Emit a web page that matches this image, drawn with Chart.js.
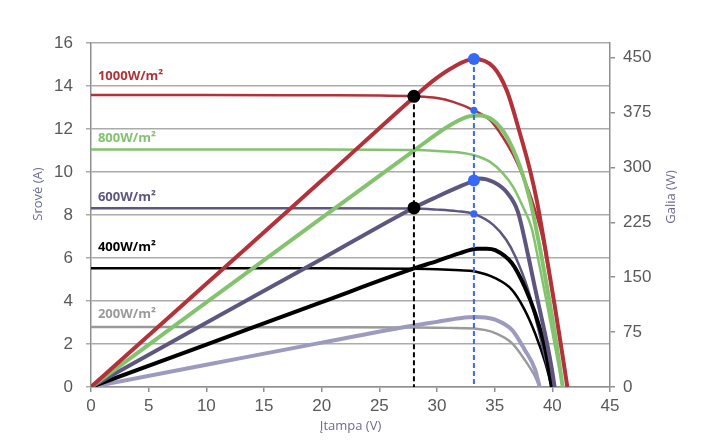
<!DOCTYPE html>
<html>
<head>
<meta charset="utf-8">
<script src="https://cdn.jsdelivr.net/npm/chart.js@4"></script>
<style>
  html, body { margin: 0; padding: 0; background: #ffffff; }
  #wrap { width: 704px; height: 443px; }
</style>
</head>
<body>
<div id="wrap"><canvas id="c" width="704" height="443"></canvas></div>
<script>
// ---------- DATA ----------
const irradianceLabels = ['1000W/m²', '800W/m²', '600W/m²', '400W/m²', '200W/m²'];
const labelCurrentAnchor = [14.45, 11.57, 8.83, 6.51, 3.39];   // A, where each label sits

// I–V curves (Srovė, A) vs Įtampa (V)
const ivV1000 = [0, 10, 20, 25, 28, 30, 31.4, 33.2, 34.6, 35.7, 36.6, 37.45, 38.2, 38.76, 39.2, 39.8, 40.4, 40.9, 41.3];
const ivI1000 = [13.58, 13.58, 13.57, 13.56, 13.52, 13.44, 13.26, 12.87, 12.41, 11.63, 10.8, 9.8, 8.75, 7.75, 6.8, 5.0, 3.1, 1.4, 0];
const ivV800  = [0, 10, 20, 28, 30, 31.7, 33.2, 34.6, 35.7, 36.6, 37.45, 38.2, 38.9, 39.6, 40.3, 40.9];
const ivI800  = [11.05, 11.05, 11.05, 11.02, 10.98, 10.92, 10.78, 10.47, 9.95, 9.31, 8.38, 7.4, 5.6, 3.7, 1.7, 0];
const ivV600  = [0, 10, 20, 28, 30, 31.7, 33.2, 34.9, 36.0, 36.8, 37.9, 38.8, 39.65, 40.2];
const ivI600  = [8.31, 8.31, 8.31, 8.3, 8.25, 8.18, 8.05, 7.53, 6.85, 6.06, 4.52, 2.66, 0.8, 0];
const ivV400  = [0, 10, 20, 28, 30, 32, 33.2, 35.05, 36.5, 37.6, 38.5, 39.4, 39.95];
const ivI400  = [5.52, 5.52, 5.52, 5.5, 5.48, 5.43, 5.38, 5.06, 4.52, 3.59, 2.5, 1.11, 0];
const ivV200  = [0, 10, 20, 28, 31, 33.2, 35.05, 36.5, 37.6, 38.5, 38.9];
const ivI200  = [2.79, 2.79, 2.78, 2.77, 2.75, 2.72, 2.51, 2.04, 1.27, 0.49, 0];

// P–V curves (Galia, W) vs Įtampa (V)
const pvV1000 = [0, 10, 20, 28, 29.7, 31.4, 33.2, 34.9, 36.05, 37.2, 38.07, 38.65, 39.4, 40.2, 40.8, 41.3];
const pvP1000 = [0, 141, 282, 396, 419, 437, 448, 437, 405, 346, 296, 255, 188, 112, 52, 0];
const pvV800  = [0, 10, 20, 28, 30.85, 32.6, 33.7, 34.9, 36.05, 37.2, 38.07, 38.8, 39.5, 40.2, 40.9];
const pvP800  = [0, 115.6, 231, 323, 355, 369, 371, 364, 342, 301, 255, 200, 140, 75, 0];
const pvV600  = [0, 10, 20, 28, 30, 31.7, 33.2, 33.7, 34.9, 36.05, 37.0, 37.9, 38.5, 39.1, 39.6, 39.95, 40.2];
const pvP600  = [0, 87.7, 175, 245, 260, 272, 282, 285, 280, 266, 240, 180, 135, 92, 55, 25, 0];
const pvV400  = [0, 10, 20, 28, 30, 32, 33.5, 34.3, 35.05, 36.5, 37.6, 38.5, 39.4, 39.95];
const pvP400  = [0, 58, 116, 162, 172, 183, 189, 189, 187, 169, 137, 101, 51, 0];
const pvV200  = [0, 10, 20, 28, 30, 32, 33.4, 34.2, 35.05, 36.5, 37.6, 38.5, 38.9];
const pvP200  = [0, 30.3, 60.6, 84, 89, 94, 95.5, 95, 92, 78, 51, 24, 0];

// marked operating points
const fixedVoltage = 28;              // black dashed line
const fixedCurrents = [13.52, 8.33];  // black dots (A)
const mppVoltage = 33.2;              // blue dashed line
const mppPowers = [448, 282];         // large blue dots (W)
const mppCurrents = [12.87, 8.05];    // small blue dots (A)

// axis ticks
const xTicksMax = 45;
const yCurrentMax = 16;
const yPowerMax = 470;
const powerTicks = [0, 75, 150, 225, 300, 375, 450];

// ---------- styling ----------
const COLORS = ['#b3323a', '#83c36d', '#5f5680', '#000000', '#9a9a9a'];
const POWER_COLORS = ['#b3323a', '#83c36d', '#5f5680', '#000000', '#9d9abf'];
const BLUE = '#3468f5';
const GRID = '#ababab';
const AXIS = '#8f8f8f';
const TICK_TXT = '#595959';
const TITLE_TXT = '#6c6b93';

function pts(xs, ys) { return xs.map((x, i) => ({ x: x, y: ys[i] })); }

const ivSets = [[ivV1000, ivI1000], [ivV800, ivI800], [ivV600, ivI600], [ivV400, ivI400], [ivV200, ivI200]];
const pvSets = [[pvV1000, pvP1000], [pvV800, pvP800], [pvV600, pvP600], [pvV400, pvP400], [pvV200, pvP200]];

const datasets = [];
datasets.push({
  label: 'black dots', data: fixedCurrents.map(c => ({ x: fixedVoltage, y: c })), yAxisID: 'y',
  showLine: false, pointRadius: 6.5, pointBackgroundColor: '#000', pointBorderWidth: 0, order: 0
});
datasets.push({
  label: 'blue dots', data: mppPowers.map(p => ({ x: mppVoltage, y: p })), yAxisID: 'y1',
  showLine: false, pointRadius: 6, pointBackgroundColor: BLUE, pointBorderWidth: 0, order: 0
});
datasets.push({
  label: 'small blue dots', data: mppCurrents.map(c => ({ x: mppVoltage, y: c })), yAxisID: 'y',
  showLine: false, pointRadius: 3.6, pointBackgroundColor: BLUE, pointBorderWidth: 0, order: 0
});
datasets.push({
  label: 'fixed V', data: [{ x: fixedVoltage, y: fixedCurrents[0] }, { x: fixedVoltage, y: 0 }], yAxisID: 'y',
  showLine: true, borderColor: '#000', borderWidth: 2, borderDash: [5, 3], pointRadius: 0, order: 1
});
datasets.push({
  label: 'MPP V', data: [{ x: mppVoltage, y: mppPowers[0] }, { x: mppVoltage, y: 0 }], yAxisID: 'y1',
  showLine: true, borderColor: BLUE, borderWidth: 2, borderDash: [5, 3], pointRadius: 0, order: 1
});
ivSets.forEach((s, i) => datasets.push({
  label: irradianceLabels[i] + ' I', data: pts(s[0], s[1]), yAxisID: 'y', showLine: true,
  borderColor: COLORS[i], borderWidth: 2.5, pointRadius: 0, cubicInterpolationMode: 'monotone', order: 3
}));
pvSets.forEach((s, i) => datasets.push({
  label: irradianceLabels[i] + ' P', data: pts(s[0], s[1]), yAxisID: 'y1', showLine: true,
  borderColor: POWER_COLORS[i], borderWidth: 4, pointRadius: 0, cubicInterpolationMode: 'monotone', order: 2
}));

const textPlugin = {
  id: 'texts',
  afterDraw(chart) {
    const ctx = chart.ctx, xs = chart.scales.x, ys = chart.scales.y, ca = chart.chartArea;
    ctx.save();
    ctx.font = 'bold 13px "Open Sans"';
    ctx.textBaseline = 'middle';
    ctx.textAlign = 'left';
    irradianceLabels.forEach((t, i) => {
      ctx.fillStyle = COLORS[i];
      ctx.fillText(t, xs.getPixelForValue(0.6), ys.getPixelForValue(labelCurrentAnchor[i]));
    });
    ctx.fillStyle = TITLE_TXT;
    ctx.font = '13px "Open Sans"';
    ctx.textAlign = 'center';
    ctx.fillText('Įtampa (V)', (ca.left + ca.right) / 2, 426);
    ctx.save();
    ctx.translate(38, 194);
    ctx.rotate(-Math.PI / 2);
    ctx.fillText('Srovė (A)', 0, 0);
    ctx.restore();
    ctx.save();
    ctx.translate(671, 197);
    ctx.rotate(-Math.PI / 2);
    ctx.fillText('Galia (W)', 0, 0);
    ctx.restore();
    ctx.restore();
  }
};

new Chart(document.getElementById('c'), {
  type: 'scatter',
  data: { datasets: datasets },
  options: {
    responsive: false,
    animation: false,
    events: [],
    layout: { padding: { top: 43, left: 0, right: 0, bottom: 0 } },
    plugins: { legend: { display: false }, tooltip: { enabled: false } },
    scales: {
      x: {
        type: 'linear', min: 0, max: xTicksMax,
        ticks: { stepSize: 5, color: TICK_TXT, font: { family: '"Liberation Sans", Arial', size: 17 }, padding: 4, maxRotation: 0 },
        grid: { display: true, drawOnChartArea: false, drawTicks: true, tickLength: 5, color: AXIS, lineWidth: 1.5 },
        border: { display: true, color: AXIS, width: 1.5 },
        afterFit(s) { s.height = 56; }
      },
      y: {
        type: 'linear', position: 'left', min: 0, max: yCurrentMax,
        ticks: { stepSize: 2, color: TICK_TXT, font: { family: '"Liberation Sans", Arial', size: 17 }, padding: 13 },
        grid: { color: GRID, lineWidth: 1.5, drawTicks: true, tickLength: 5 },
        border: { display: true, color: AXIS, width: 1.5 },
        afterFit(s) { s.width = 91; }
      },
      y1: {
        type: 'linear', position: 'right', min: 0, max: yPowerMax,
        afterBuildTicks(s) { s.ticks = powerTicks.map(v => ({ value: v })); },
        ticks: { autoSkip: false, color: TICK_TXT, font: { family: '"Liberation Sans", Arial', size: 17 }, padding: 8 },
        grid: { drawOnChartArea: false, drawTicks: true, tickLength: 5, color: AXIS, lineWidth: 1.5 },
        border: { display: true, color: AXIS, width: 1.5 },
        afterFit(s) { s.width = 94; }
      }
    }
  },
  plugins: [textPlugin]
});
</script>
</body>
</html>
